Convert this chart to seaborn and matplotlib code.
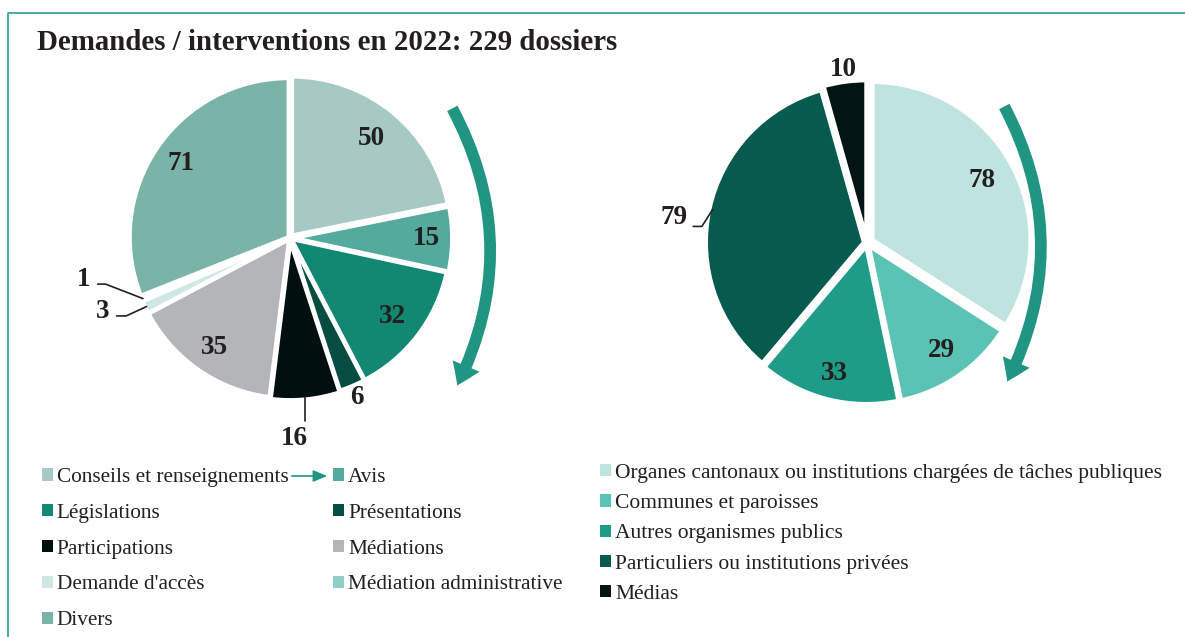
import numpy as np
import matplotlib
matplotlib.use("Agg")
import matplotlib.pyplot as plt
from matplotlib.lines import Line2D
from matplotlib.patches import FancyArrowPatch
import seaborn as sns

# Data: demandes / interventions 2022 (229 dossiers)
types_labels = ["Conseils et renseignements", "Avis", "Législations", "Présentations",
                "Participations", "Médiations", "Demande d'accès",
                "Médiation administrative", "Divers"]
types_values = [50, 15, 32, 6, 16, 35, 3, 1, 71]
types_colors = ["#a6c9c4", "#54aa9c", "#128872", "#054d40", "#020f0f",
                "#b4b5b8", "#cfe8e4", "#8fcfc5", "#7ab4a8"]

origin_labels = ["Organes cantonaux ou institutions chargées de tâches publiques",
                 "Communes et paroisses", "Autres organismes publics",
                 "Particuliers ou institutions privées", "Médias"]
origin_values = [78, 29, 33, 79, 10]
origin_colors = ["#bfe4df", "#5bc3b3", "#1e9c87", "#075a4e", "#021514"]

title = "Demandes / interventions en 2022: 229 dossiers"

sns.set_theme(style="white")
plt.rcParams['font.family'] = ['Liberation Serif', 'DejaVu Serif']
TXT = "#231f20"
TEAL = "#1f9582"
LBL = 19.5

W, H = 1185, 637
fig = plt.figure(figsize=(W / 100, H / 100), dpi=100)
fig.patch.set_facecolor("white")


def pie_axes(cx, cy, r, lim=1.35):
    half = r * lim
    ax = fig.add_axes([(cx - half) / W, (H - cy - half) / H, 2 * half / W, 2 * half / H])
    return ax, lim


def draw_pie(ax, lim, values, colors, explode):
    wedges, _ = ax.pie(values, colors=colors, startangle=90, counterclock=False,
                       explode=explode,
                       wedgeprops=dict(edgecolor="white", linewidth=3))
    ax.set_xlim(-lim, lim)
    ax.set_ylim(-lim, lim)
    ax.set_aspect("equal")
    ax.axis("off")
    return wedges


def mid_angle(w):
    return np.deg2rad((w.theta1 + w.theta2) / 2)


def label_at(ax, w, text, dist):
    a = mid_angle(w)
    ax.text(dist * np.cos(a), dist * np.sin(a), text, ha="center", va="center",
            fontsize=LBL, fontweight="bold", color=TXT)


# ---- left pie ----
axL, limL = pie_axes(290, 238, 159)
wl = draw_pie(axL, limL, types_values, types_colors,
              [0.02, 0.02, 0.01, 0.01, 0.02, 0.01, 0.01, 0.01, 0.01])
for i, d in [(0, 0.81), (1, 0.86), (2, 0.81), (5, 0.84), (8, 0.83), (3, 1.09)]:
    label_at(axL, wl[i], str(types_values[i]), d)

# 16 : vertical leader
a = mid_angle(wl[4])
x0 = np.cos(a)
axL.plot([x0, x0], [-1.0, -1.15], color=TXT, lw=1.2)
axL.text(x0 - 0.07, -1.26, str(types_values[4]), ha="center", va="center",
         fontsize=LBL, fontweight="bold", color=TXT)

# 1 and 3 : elbow leaders
for i, elbow, end, txt in [(7, (-1.16, -0.29), -1.21, (-1.30, -0.26)),
                           (6, (-1.03, -0.49), -1.09, (-1.18, -0.46))]:
    a = mid_angle(wl[i])
    axL.plot([np.cos(a), elbow[0], end], [np.sin(a), elbow[1], elbow[1]], color=TXT, lw=1.2)
    axL.text(txt[0], txt[1], str(types_values[i]), ha="center", va="center",
             fontsize=LBL, fontweight="bold", color=TXT)

# ---- right pie ----
axR, limR = pie_axes(867, 243, 158)
wr = draw_pie(axR, limR, origin_values, origin_colors, [0.04, 0.02, 0.02, 0.02, 0.03])
for i, d in [(0, 0.83), (1, 0.83), (2, 0.85), (4, 1.11)]:
    label_at(axR, wr[i], str(origin_values[i]), d)
a = mid_angle(wr[3])
axR.plot([np.cos(a), -1.045, -1.10], [np.sin(a), 0.105, 0.105], color=TXT, lw=1.2)
axR.text(-1.22, 0.16, str(origin_values[3]), ha="center", va="center",
         fontsize=LBL, fontweight="bold", color=TXT)

# ---- curved arrows ----
for (x1, y1), (x2, y2) in [((451, 106), (456, 388)), ((1003, 104), (1006, 384))]:
    arr = FancyArrowPatch((x1 / W, 1 - y1 / H), (x2 / W, 1 - y2 / H),
                          transform=fig.transFigure,
                          connectionstyle="arc3,rad=-0.26",
                          arrowstyle="simple,head_width=1.5,head_length=1.1,tail_width=0.6",
                          mutation_scale=14, color=TEAL, lw=0)
    fig.add_artist(arr)

# small arrow in legend
fig.add_artist(FancyArrowPatch((289 / W, 1 - 476 / H), (330 / W, 1 - 476 / H),
                               transform=fig.transFigure,
                               arrowstyle="-|>,head_width=0.25,head_length=0.6",
                               mutation_scale=14, color=TEAL, lw=1.2))

# ---- frame ----
fig.add_artist(Line2D([8 / W, 8 / W, 1], [0, 1 - 13 / H, 1 - 13 / H],
                      transform=fig.transFigure, color="#2a9d8f", lw=1.2))

fig.text(37 / W, 1 - 42 / H, title, ha="left", va="center", fontsize=20.8,
         fontweight="bold", color=TXT)

# ---- legends ----
order = [0, 2, 4, 6, 8, 1, 3, 5, 7]
legL = fig.legend([wl[i] for i in order], [types_labels[i] for i in order],
                  loc="upper left", bbox_to_anchor=(42 / W, 1 - 468 / H), ncol=2,
                  frameon=False, fontsize=15.3, labelspacing=0.79, columnspacing=2.1,
                  handlelength=0.5, handleheight=0.5, handletextpad=0.2,
                  borderpad=0, borderaxespad=0, labelcolor=TXT)
legR = fig.legend(wr, origin_labels, loc="upper left", bbox_to_anchor=(600 / W, 1 - 464 / H),
                  ncol=1, frameon=False, fontsize=15.5, labelspacing=0.52,
                  handlelength=0.5, handleheight=0.5, handletextpad=0.2,
                  borderpad=0, borderaxespad=0, labelcolor=TXT)
for leg in (legL, legR):
    for h in leg.legend_handles:
        h.set_edgecolor("none")

fig.savefig("out.png", dpi=100, facecolor="white")
